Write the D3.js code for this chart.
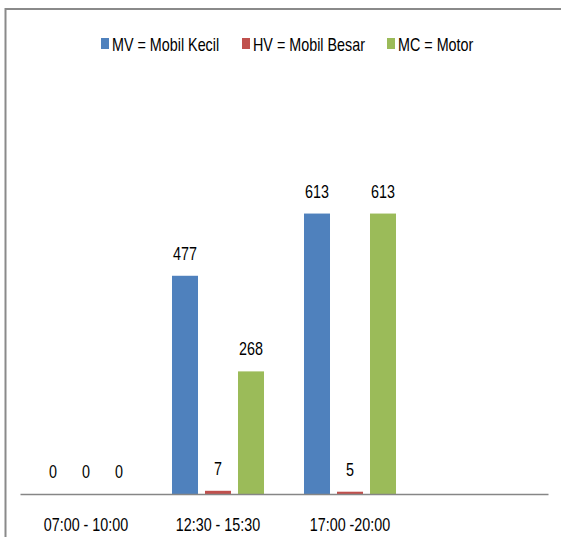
<!DOCTYPE html>
<html>
<head>
<meta charset="utf-8">
<script src="https://cdn.jsdelivr.net/npm/d3@7"></script>
<style>
  html, body { margin: 0; padding: 0; background: #fff; }
  svg { display: block; }
  text { font-family: "Liberation Sans", Arial, sans-serif; fill: #000; }
</style>
</head>
<body>
<div id="chart"><svg width="561" height="537"></svg></div>
<script>
// data
var categories = ['07:00 - 10:00', '12:30 - 15:30', '17:00 -20:00', ''];
var seriesNames = ['MV = Mobil Kecil', 'HV = Mobil Besar', 'MC = Motor'];
var seriesColors = ['#4f81bd', '#c0504d', '#9bbb59'];
var mvValues = [0, 477, 613, null];
var hvValues = [0, 7, 5, null];
var mcValues = [0, 268, 613, null];

(function() {
    // general setup, declare variables
    var svg = d3.select('div#chart svg'),
    fontSize = 18.5,
    narrow = 'scale(0.775,1)',   // no narrow font installed, squeeze Liberation Sans instead
    plot = {left: 20, right: 548, top: 128, bottom: 494},
    seriesValues = [mvValues, hvValues, mcValues],
    rows,
    x0,
    x1,
    y,
    groups,
    legend,
    lx;

    // outer frame (only top and left edges are visible in the crop)
    svg.append('path')
	.attr('d', 'M5.5,537 V9 H561')
	.attr('fill', 'none')
	.attr('stroke', '#8a8a8a')
	.attr('stroke-width', 2);

    x0 = d3.scaleBand()
	.domain(categories)
	.range([plot.left, plot.right]);
    x1 = d3.scaleBand()
	.domain(seriesNames)
	.range([0, x0.bandwidth()])
	.paddingInner(0.212)
	.paddingOuter(0.606);
    y = d3.scaleLinear()
	.domain([0, 800])
	.range([plot.bottom, plot.top]);

    rows = categories.map(function(c, i) {
	return {
	    category: c,
	    values: seriesNames.map(function(s, j) {
		return {series: s, color: seriesColors[j], value: seriesValues[j][i]};
	    })
	};
    });

    groups = svg.append('g').selectAll('g.group')
	.data(rows)
	.join('g')
	.classed('group', true)
	.attr('transform', function(d) { return 'translate(' + x0(d.category) + ',0)'; });

    // bars
    groups.selectAll('rect')
	.data(function(d) { return d.values.filter(function(v) { return v.value !== null; }); })
	.join('rect')
	.attr('x', function(d) { return x1(d.series); })
	.attr('y', function(d) { return y(d.value); })
	.attr('width', x1.bandwidth())
	.attr('height', function(d) { return y(0) - y(d.value); })
	.attr('fill', function(d) { return d.color; });

    // value labels above the bars
    groups.selectAll('text.value')
	.data(function(d) { return d.values.filter(function(v) { return v.value !== null; }); })
	.join('text')
	.classed('value', true)
	.attr('transform', function(d) {
	    return 'translate(' + (x1(d.series) + x1.bandwidth() / 2) + ',' + (y(d.value) - 16) + ') ' + narrow;
	})
	.attr('text-anchor', 'middle')
	.style('font-size', fontSize + 'px')
	.text(function(d) { return d.value; });

    // category axis
    svg.append('g')
	.attr('transform', 'translate(0,' + plot.bottom + ')')
	.call(d3.axisBottom(x0).tickSize(0).tickSizeOuter(0).tickPadding(24))
	.call(function(g) {
	    g.attr('font-family', null).attr('font-size', null);
	    g.select('.domain').attr('stroke', '#868686').attr('stroke-width', 1.5);
	    g.selectAll('text')
		.style('font-size', fontSize + 'px')
		.attr('fill', '#000')
		.attr('transform', narrow);
	});

    // legend across the top
    legend = svg.append('g').attr('transform', 'translate(0,44)');
    lx = [101, 242, 387];
    seriesNames.forEach(function(s, i) {
	var item = legend.append('g').attr('transform', 'translate(' + lx[i] + ',0)');
	item.append('rect')
	    .attr('x', 0)
	    .attr('y', -6)
	    .attr('width', 8)
	    .attr('height', 11)
	    .attr('fill', seriesColors[i]);
	item.append('text')
	    .attr('transform', 'translate(11,6.5) ' + narrow)
	    .style('font-size', fontSize + 'px')
	    .text(s);
    });
}).call(this);
</script>
</body>
</html>
